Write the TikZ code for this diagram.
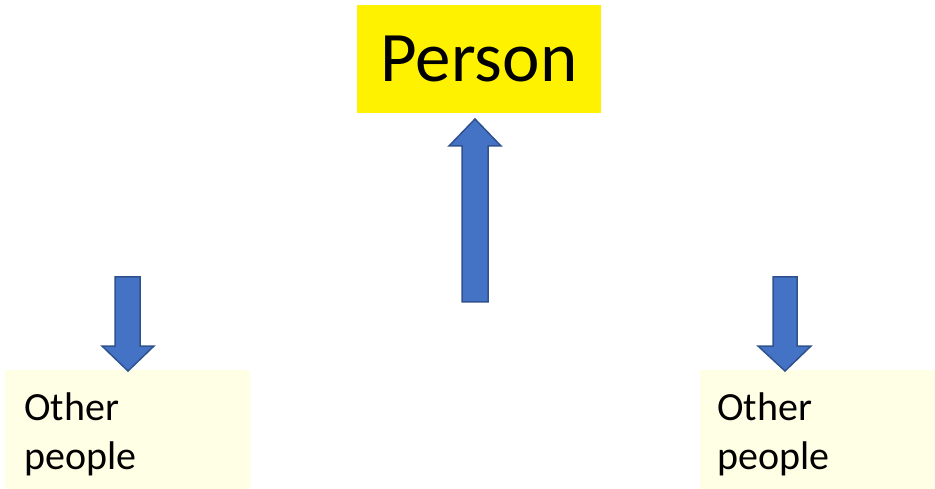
\documentclass[tikz,border=0pt]{standalone}
\usepackage{fontspec}
\setmainfont{Carlito}
\usepackage{tikz}
\usetikzlibrary{positioning}
\definecolor{arrowblue}{RGB}{68,114,196}
\definecolor{arrowedge}{RGB}{47,82,143}
\definecolor{paleyellow}{RGB}{255,255,229}
\tikzset{every path/.style={line join=miter}}
\tikzset{personbox/.style={fill=yellow,minimum width=244pt,minimum height=108pt,inner sep=0pt,
    font=\fontsize{71}{85}\selectfont,text height=46pt,text depth=0pt}}
\tikzset{otherbox/.style={fill=paleyellow,anchor=north west,minimum height=128pt,align=left,
    text width=207pt,inner xsep=19pt,inner ysep=0pt,font=\fontsize{40}{49}\selectfont}}
\tikzset{blockarrow/.style={fill=arrowblue,draw=arrowedge,line width=1.5pt}}

\begin{document}
\begin{tikzpicture}[x=1pt,y=-1pt]
\useasboundingbox (0,0) rectangle (935,489);
\node[personbox] (person) at (479,59) {Person};
\node[otherbox] (others1) at (5,370) {Other\\people};
\node[otherbox,inner xsep=17pt,text width=201pt] (others2) at (700,370) {Other\\people};
% arrow up to the person
\draw[blockarrow] (462,302) -- (462,146) -- (449,146) -- (475,119) -- (501,146) -- (488,146) -- (488,302) -- cycle;
% arrows down to the others
\draw[blockarrow] (115,277) -- (140,277) -- (140,346) -- (154,346) -- (128,371) -- (102,346) -- (115,346) -- cycle;
\draw[blockarrow] (773,277) -- (797,277) -- (797,346) -- (811,346) -- (785,371) -- (758,346) -- (773,346) -- cycle;
\end{tikzpicture}
\end{document}
